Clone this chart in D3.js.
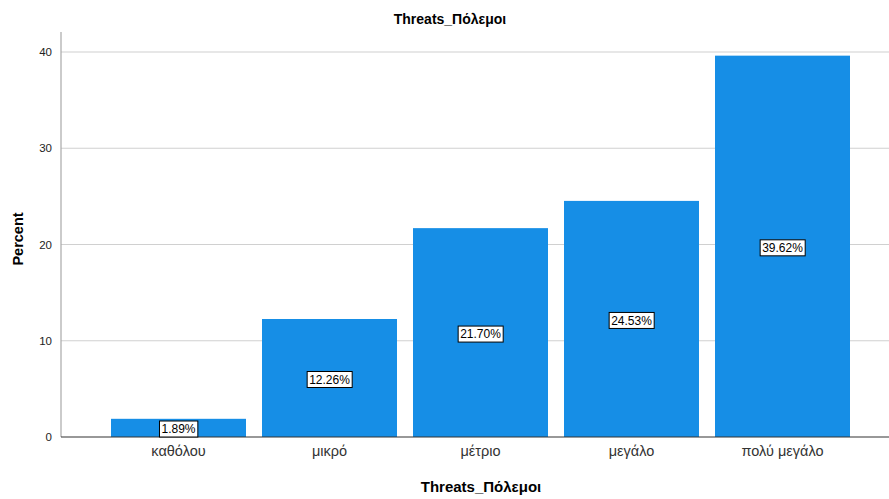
<!DOCTYPE html>
<html><head><meta charset="utf-8">
<script src="https://cdn.jsdelivr.net/npm/d3@7"></script>
<style>body{margin:0;background:#fff}text{font-family:"Liberation Sans",Arial,sans-serif}</style>
</head><body>
<svg id="c" width="889" height="499"></svg>
<script>
const categories = ["καθόλου","μικρό","μέτριο","μεγάλο","πολύ μεγάλο"];
const values = [1.89, 12.26, 21.70, 24.53, 39.62];
const yTicks = [0, 10, 20, 30, 40];
const title = "Threats_Πόλεμοι";
const xTitle = "Threats_Πόλεμοι";
const yTitle = "Percent";

(function(){
const svg = d3.select("#c");
const mL = 61, mR = 889, mT = 32, mB = 437;
const y = d3.scaleLinear().domain([0, 40]).range([mB, 52]);
const x = d3.scaleBand().domain(categories).range([103, 858]).paddingInner(0.106).paddingOuter(0.053);

svg.append("g").selectAll("line").data(yTicks.filter(d=>d>0)).join("line")
  .attr("x1", mL).attr("x2", mR).attr("y1", d=>y(d)).attr("y2", d=>y(d))
  .attr("stroke", "#d0d0d0").attr("stroke-width", 1.2);

svg.append("line").attr("x1", mL).attr("x2", mL).attr("y1", mT).attr("y2", mB)
  .attr("stroke", "#a8a8a8").attr("stroke-width", 1.2);
const ya = svg.append("g").attr("transform", `translate(${mL},0)`)
  .call(d3.axisLeft(y).tickValues(yTicks).tickSize(0).tickPadding(9));
ya.select(".domain").remove();
ya.selectAll("text").attr("font-size", 11.5).attr("fill", "#222").style("font-family", "'Liberation Sans',Arial,sans-serif");

svg.append("g").selectAll("rect").data(values).join("rect")
  .attr("x", (d,i)=>x(categories[i])).attr("width", x.bandwidth())
  .attr("y", d=>y(d)).attr("height", d=>mB - y(d))
  .attr("fill", "#168ee6");

svg.append("line").attr("x1", mL).attr("x2", mR).attr("y1", mB).attr("y2", mB)
  .attr("stroke", "#333").attr("stroke-width", 1.2);
const xa = svg.append("g").attr("transform", `translate(0,${mB})`)
  .call(d3.axisBottom(x).tickSize(0).tickPadding(9));
xa.select(".domain").remove();
xa.selectAll("text").attr("font-size", 14.5).attr("fill", "#333").style("font-family", "'Liberation Sans',Arial,sans-serif");

const lab = svg.append("g").selectAll("g").data(values).join("g")
  .attr("transform", (d,i)=>{
    const cx = x(categories[i]) + x.bandwidth()/2;
    const cy = Math.min((y(d)+mB)/2 + 1.5, mB - 8);
    return `translate(${cx},${cy})`;
  });
lab.append("text").attr("text-anchor","middle").attr("dy","0.36em")
  .attr("font-size", 12).attr("fill","#000").text(d=>d.toFixed(2)+"%")
  .each(function(){
    const b = this.getBBox();
    d3.select(this.parentNode).insert("rect","text")
      .attr("x", b.x-2).attr("y", -8).attr("width", b.width+4).attr("height", 16)
      .attr("fill","#fff").attr("stroke","#000").attr("stroke-width",1);
  });

svg.append("text").attr("x", 450).attr("y", 24).attr("text-anchor","middle")
  .attr("font-size", 14).attr("font-weight","bold").text(title);
svg.append("text").attr("x", 481).attr("y", 492).attr("text-anchor","middle")
  .attr("font-size", 15).attr("font-weight","bold").text(xTitle);
svg.append("text").attr("transform","translate(23,239) rotate(-90)").attr("text-anchor","middle")
  .attr("font-size", 14.5).attr("font-weight","bold").text(yTitle);
})();
</script>
</body></html>
